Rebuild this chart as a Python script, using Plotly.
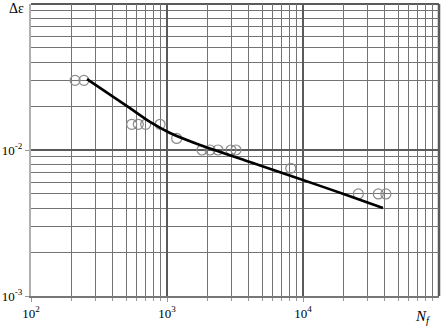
import plotly.graph_objects as go

# Experimental points (N_f, delta epsilon)
pts_n = [211, 245, 550, 615, 697, 889, 1178, 1808, 2070, 2371, 2957, 3213, 8128, 25530, 35800, 40700]
pts_de = [0.03, 0.03, 0.015, 0.015, 0.015, 0.015, 0.012, 0.01, 0.01, 0.01, 0.01, 0.01, 0.0075, 0.005, 0.005, 0.005]

# Fitted curve
fit_n = [258, 508, 750, 1052, 1748, 4074, 9506, 20370, 38730]
fit_de = [0.0306, 0.0200, 0.01556, 0.01307, 0.01082, 0.00827, 0.00633, 0.00496, 0.00401]

x_major = [100, 1000, 10000]
x_major_text = ["10<sup>2</sup>", "10<sup>3</sup>", "10<sup>4</sup>"]
y_major = [0.001, 0.01]
y_major_text = ["10<sup>-3</sup>", "10<sup>-2</sup>"]

x_minor = [m * d for d in [100, 1000, 10000] for m in range(2, 10)]
y_minor = [m * d for d in [0.001, 0.01] for m in range(2, 10)]

FONT = "Liberation Serif, Times New Roman, serif"

fig = go.Figure()
fig.add_trace(go.Scatter(
    x=pts_n, y=pts_de, mode="markers",
    marker=dict(symbol="circle-open", size=10, color="#8a8a8a", line=dict(width=1.2, color="#8a8a8a")),
    showlegend=False))
fig.add_trace(go.Scatter(
    x=fit_n, y=fit_de, mode="lines",
    line=dict(color="black", width=2.6, shape="spline", smoothing=0.6),
    showlegend=False))

fig.update_layout(
    width=443, height=327,
    margin=dict(l=31, r=4, t=4, b=31, autoexpand=False),
    paper_bgcolor="white", plot_bgcolor="white",
    font=dict(family=FONT, size=13, color="black"),
    xaxis=dict(
        type="log", range=[2, 5], automargin=False,
        tickmode="array", tickvals=x_major, ticktext=x_major_text,
        showgrid=True, gridcolor="#5a5a5a", gridwidth=2,
        showline=True, linecolor="#777777", linewidth=2,
        ticks="outside", ticklen=4, tickcolor="#999999",
        tickfont=dict(family=FONT, size=13),
        minor=dict(tickvals=x_minor, showgrid=True, gridcolor="#737373", gridwidth=1.3,
                   ticks="outside", ticklen=3, tickcolor="#999999"),
        zeroline=False,
    ),
    yaxis=dict(
        type="log", range=[-3, -1], automargin=False,
        tickmode="array", tickvals=y_major, ticktext=y_major_text,
        showgrid=True, gridcolor="#5a5a5a", gridwidth=2,
        showline=True, linecolor="#b0b0b0", linewidth=2,
        ticks="outside", ticklen=4, tickcolor="#999999",
        tickfont=dict(family=FONT, size=13),
        minor=dict(tickvals=y_minor, showgrid=True, gridcolor="#737373", gridwidth=1.3),
        zeroline=False,
    ),
)

# frame on top and right (continuation of the 1e-1 and 1e5 grid lines)
fig.add_shape(type="line", xref="paper", yref="paper", x0=0, x1=1, y0=1, y1=1,
              line=dict(color="#5a5a5a", width=2), layer="below")
fig.add_shape(type="line", xref="paper", yref="paper", x0=1, x1=1, y0=0, y1=1,
              line=dict(color="#5a5a5a", width=2.5), layer="below")

fig.add_annotation(xref="paper", yref="paper", x=-0.012, y=0.985, xanchor="right", yanchor="middle",
                   text="Δε", showarrow=False, font=dict(family=FONT, size=14))
fig.add_annotation(xref="paper", yref="paper", x=0.985, y=-0.035, xanchor="right", yanchor="top",
                   text="<i>N<sub>f</sub></i>", showarrow=False, font=dict(family=FONT, size=15))

fig.write_html("out.html", config={"displayModeBar": False},
               post_script="document.body.style.margin='0px';document.body.style.overflow='hidden';")
